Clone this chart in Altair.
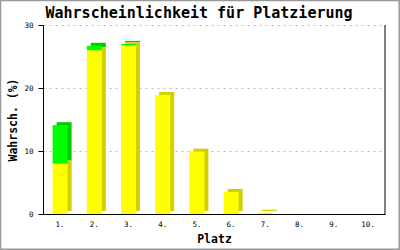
import altair as alt
import pandas as pd

places = ["1.", "2.", "3.", "4.", "5.", "6.", "7.", "8.", "9.", "10."]
yellow_vals = [8.0, 26.0, 26.8, 18.9, 9.9, 3.5, 0.2, 0.0, 0.0, 0.0]
green_vals = [6.1, 0.7, 0.2, 0.0, 0.0, 0.0, 0.0, 0.0, 0.0, 0.0]

rows = []
for p, yv, gv in zip(places, yellow_vals, green_vals):
    rows.append({"Platz": p, "o": 0, "v": yv, "fc": "#ffff00", "dc": "#d4d000"})
    rows.append({"Platz": p, "o": 1, "v": gv, "fc": "#00ff00", "dc": "#00cc00"})
df = pd.DataFrame(rows)
# draw order for the shaded side: green first, then yellow over it
df_dark = pd.concat([df[df.o == 1], df[df.o == 0]])

FONT = "DejaVu Sans Mono"
W, H = 342, 189

xscale = alt.Scale(domain=places, paddingInner=0, paddingOuter=0)
yscale = alt.Scale(domain=[0, 30], nice=False)

xaxis = alt.Axis(title="Platz", labelAngle=0, ticks=False, domainColor="black",
                 labelFont=FONT, labelFontSize=7.5, labelColor="black", labelPadding=6,
                 titleFont=FONT, titleFontSize=11.5, titleFontWeight="bold", titleColor="black",
                 titleY=28, titleBaseline="alphabetic", grid=False)
yaxis = alt.Axis(title="Wahrsch. (%)", values=[0, 10, 20, 30], tickSize=5, tickColor="black",
                 domainColor="black", labelFont=FONT, labelFontSize=7.5, labelColor="black",
                 labelPadding=5, titleFont=FONT, titleFontSize=11.5, titleFontWeight="bold",
                 titleColor="black", titleX=-27, titleY=H / 2, titleAngle=-90,
                 titleBaseline="alphabetic", titleAlign="center",
                 grid=True, gridColor="#bbbbbb", gridDash=[2, 4])

dark = alt.Chart(df_dark).mark_bar(size=15, xOffset=4, yOffset=-3).encode(
    x=alt.X("Platz:N", sort=places, scale=xscale, axis=xaxis),
    y=alt.Y("v:Q", stack="zero", scale=yscale, axis=yaxis),
    order=alt.Order("o:Q"),
    color=alt.Color("dc:N", scale=None),
).transform_filter("datum.v > 0")

front = alt.Chart(df).mark_bar(size=15).encode(
    x=alt.X("Platz:N", sort=places, scale=xscale, axis=xaxis),
    y=alt.Y("v:Q", stack="zero", scale=yscale, axis=yaxis),
    order=alt.Order("o:Q"),
    color=alt.Color("fc:N", scale=None),
).transform_filter("datum.v > 0")

right_line = alt.Chart(alt.Data(values=[{}])).mark_rule(color="black", strokeWidth=1).encode(
    x=alt.value(W), y=alt.value(0), y2=alt.value(H)
)

frame = alt.Chart(alt.Data(values=[{}])).mark_rect(fill=None, stroke="#999999", strokeWidth=1.5).encode(
    x=alt.value(-42.5), x2=alt.value(400 - 43 - 0.8), y=alt.value(-24.5), y2=alt.value(250 - 25 - 0.8)
)

chart = alt.layer(dark, front, right_line, frame).properties(
    width=W, height=H,
    title=alt.TitleParams("Wahrscheinlichkeit für Platzierung", font=FONT, fontSize=15, fontWeight="bold",
                          color="black", anchor="middle", frame="group", dx=-15, offset=-33,
                          baseline="alphabetic"),
    autosize=alt.AutoSizeParams(type="none"),
    padding={"left": 43, "top": 25, "right": 15, "bottom": 36},
).configure(background="white").configure_view(stroke=None)

chart.save("out.html", embed_options={"renderer": "svg", "actions": False})
